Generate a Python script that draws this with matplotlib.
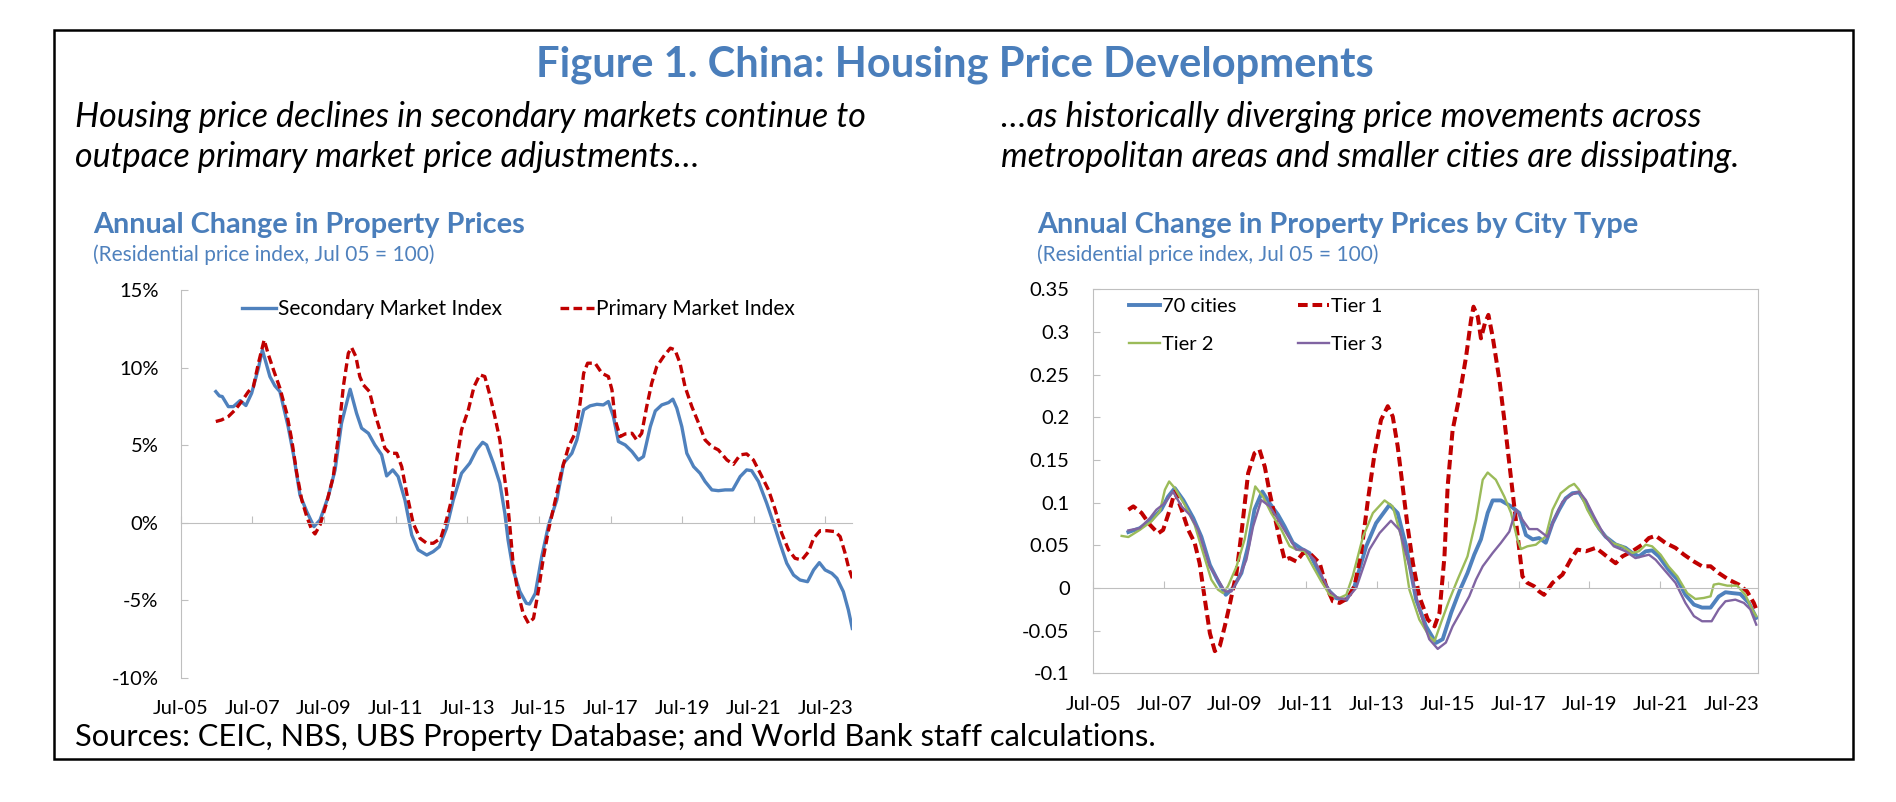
import numpy as np
import matplotlib
matplotlib.use('Agg')
import matplotlib.pyplot as plt
from matplotlib.patches import Rectangle

# ---------------- data (x = decimal year) ----------------
# left panel, annual change in %
sec_x = [2006.48, 2006.58, 2006.66, 2006.83, 2006.97, 2007.16, 2007.32, 2007.48, 2007.67, 2007.78,
         2007.99, 2008.13, 2008.27, 2008.50, 2008.66, 2008.83, 2009.02, 2009.22, 2009.39, 2009.62,
         2009.81, 2009.99, 2010.23, 2010.41, 2010.55, 2010.74, 2010.92, 2011.11, 2011.25, 2011.42,
         2011.57, 2011.76, 2011.95, 2012.13, 2012.37, 2012.55, 2012.72, 2012.92, 2013.11, 2013.34,
         2013.57, 2013.76, 2013.93, 2014.04, 2014.23, 2014.41, 2014.55, 2014.64, 2014.78, 2014.97,
         2015.15, 2015.24, 2015.40, 2015.58, 2015.77, 2016.00, 2016.19, 2016.42, 2016.56, 2016.75,
         2016.93, 2017.12, 2017.30, 2017.44, 2017.58, 2017.72, 2017.91, 2018.10, 2018.28, 2018.42,
         2018.61, 2018.75, 2018.93, 2019.12, 2019.24, 2019.35, 2019.49, 2019.63, 2019.82, 2020.00,
         2020.14, 2020.33, 2020.51, 2020.70, 2020.91, 2021.12, 2021.30, 2021.44, 2021.63, 2021.86,
         2022.05, 2022.23, 2022.42, 2022.61, 2022.79, 2023.00, 2023.17, 2023.33, 2023.49, 2023.68,
         2023.82, 2024.00, 2024.14, 2024.25]
sec_y = [8.45, 8.17, 8.13, 7.48, 7.48, 7.87, 7.55, 8.34, 9.96, 11.14,
         9.42, 8.82, 8.45, 6.19, 4.26, 1.78, 0.71, -0.26, 0.17, 1.68,
         3.40, 6.41, 8.60, 7.05, 6.09, 5.76, 5.01, 4.37, 3.01, 3.40,
         2.97, 1.46, -0.80, -1.76, -2.09, -1.87, -1.55, -0.37, 1.46, 3.18,
         3.83, 4.69, 5.18, 5.01, 3.83, 2.54, 0.60, -1.12, -3.05, -4.45,
         -5.20, -5.25, -4.56, -2.19, -0.15, 1.46, 3.83, 4.47, 5.33, 7.27,
         7.53, 7.63, 7.59, 7.81, 6.84, 5.23, 5.01, 4.58, 4.04, 4.26,
         6.19, 7.20, 7.59, 7.74, 7.96, 7.38, 6.19, 4.47, 3.61, 3.18,
         2.65, 2.11, 2.06, 2.11, 2.11, 2.97, 3.40, 3.35, 2.65, 1.25,
         -0.04, -1.33, -2.62, -3.38, -3.70, -3.81, -3.05, -2.58, -3.05, -3.27,
         -3.59, -4.45, -5.63, -6.82]

pri_x = [2006.48, 2006.64, 2006.83, 2007.02, 2007.20, 2007.39, 2007.53, 2007.67, 2007.83, 2007.95,
         2008.09, 2008.27, 2008.46, 2008.60, 2008.74, 2008.88, 2009.02, 2009.16, 2009.25, 2009.39,
         2009.57, 2009.76, 2009.90, 2010.04, 2010.18, 2010.27, 2010.39, 2010.50, 2010.60, 2010.77,
         2010.92, 2011.06, 2011.20, 2011.34, 2011.53, 2011.67, 2011.81, 2011.99, 2012.18, 2012.37,
         2012.55, 2012.76, 2012.92, 2013.06, 2013.20, 2013.34, 2013.53, 2013.69, 2013.85, 2013.99,
         2014.13, 2014.27, 2014.41, 2014.50, 2014.60, 2014.69, 2014.78, 2014.92, 2015.06, 2015.21,
         2015.35, 2015.49, 2015.63, 2015.77, 2015.96, 2016.14, 2016.33, 2016.51, 2016.65, 2016.75,
         2016.86, 2017.07, 2017.26, 2017.44, 2017.54, 2017.63, 2017.77, 2017.91, 2018.10, 2018.23,
         2018.37, 2018.51, 2018.65, 2018.79, 2018.98, 2019.17, 2019.30, 2019.44, 2019.58, 2019.77,
         2019.96, 2020.14, 2020.33, 2020.51, 2020.75, 2020.93, 2021.12, 2021.30, 2021.49, 2021.68,
         2021.91, 2022.10, 2022.28, 2022.47, 2022.65, 2022.84, 2023.03, 2023.17, 2023.35, 2023.54,
         2023.77, 2023.91, 2024.05, 2024.14, 2024.25]
pri_y = [6.52, 6.62, 6.84, 7.27, 7.81, 8.45, 8.77, 10.28, 11.78, 10.82,
         9.85, 8.67, 7.05, 5.33, 3.18, 1.46, 0.39, -0.47, -0.73, -0.15,
         1.25, 2.97, 5.55, 8.77, 10.92, 11.29, 10.71, 9.42, 8.88, 8.45,
         7.05, 5.98, 4.80, 4.47, 4.47, 3.61, 1.89, -0.04, -1.01, -1.33,
         -1.33, -1.01, 0.17, 1.46, 3.94, 5.98, 7.27, 8.77, 9.53, 9.42,
         8.24, 6.84, 5.33, 3.61, 1.89, -0.26, -2.62, -4.56, -5.85, -6.49,
         -6.17, -4.34, -2.19, -0.47, 1.46, 3.40, 4.90, 5.76, 7.70, 9.63,
         10.28, 10.28, 9.63, 9.42, 8.56, 6.62, 5.55, 5.72, 5.76, 5.33,
         5.76, 7.48, 8.99, 10.06, 10.71, 11.25, 11.14, 10.28, 8.77, 7.48,
         6.41, 5.33, 4.90, 4.69, 4.04, 3.76, 4.37, 4.43, 4.04, 3.18,
         2.11, 0.82, -0.69, -1.76, -2.30, -2.41, -1.87, -1.01, -0.52, -0.52,
         -0.58, -0.90, -1.98, -2.84, -3.59]

# right panel, annual change as a fraction
c70_x = [2006.49, 2006.81, 2007.14, 2007.42, 2007.61, 2007.80, 2008.04, 2008.32, 2008.55, 2008.79,
         2009.02, 2009.24, 2009.44, 2009.68, 2009.87, 2010.05, 2010.27, 2010.48, 2010.71, 2010.90,
         2011.13, 2011.37, 2011.60, 2011.79, 2011.98, 2012.17, 2012.36, 2012.64, 2012.87, 2013.20,
         2013.48, 2013.86, 2014.09, 2014.33, 2014.61, 2014.89, 2015.17, 2015.36, 2015.60, 2015.83,
         2016.06, 2016.25, 2016.44, 2016.63, 2016.77, 2017.00, 2017.29, 2017.52, 2017.71, 2017.90,
         2018.08, 2018.27, 2018.46, 2018.65, 2018.83, 2019.02, 2019.21, 2019.40, 2019.58, 2019.77,
         2019.96, 2020.24, 2020.52, 2020.71, 2020.90, 2021.09, 2021.27, 2021.46, 2021.74, 2021.98,
         2022.21, 2022.45, 2022.68, 2022.92, 2023.15, 2023.34, 2023.53, 2023.76, 2024.00, 2024.21]
c70_y = [0.0655, 0.070, 0.080, 0.092, 0.107, 0.117, 0.103, 0.082, 0.060, 0.027,
         0.008, -0.008, 0.000, 0.0175, 0.049, 0.092, 0.113, 0.099, 0.086, 0.072,
         0.053, 0.046, 0.041, 0.025, 0.008, -0.004, -0.012, -0.014, 0.002, 0.0487,
         0.076, 0.0975, 0.0878, 0.0487, -0.0137, -0.0449, -0.0644, -0.060, -0.029, -0.004,
         0.0175, 0.039, 0.057, 0.088, 0.1026, 0.1026, 0.0956, 0.088, 0.062, 0.057,
         0.0585, 0.053, 0.076, 0.092, 0.105, 0.111, 0.112, 0.0995, 0.084, 0.070,
         0.060, 0.051, 0.047, 0.041, 0.037, 0.043, 0.044, 0.037, 0.021, 0.010,
         -0.008, -0.0195, -0.023, -0.023, -0.010, -0.005, -0.006, -0.007, -0.0175, -0.035]

t1_x = [2006.49, 2006.63, 2006.86, 2007.10, 2007.33, 2007.47, 2007.66, 2007.80, 2007.99, 2008.18,
        2008.36, 2008.50, 2008.65, 2008.79, 2008.93, 2009.07, 2009.21, 2009.35, 2009.54, 2009.68,
        2009.87, 2010.05, 2010.19, 2010.34, 2010.48, 2010.62, 2010.76, 2010.90, 2011.04, 2011.23,
        2011.42, 2011.60, 2011.89, 2012.07, 2012.26, 2012.45, 2012.68, 2012.87, 2013.06, 2013.25,
        2013.44, 2013.62, 2013.81, 2013.95, 2014.09, 2014.23, 2014.37, 2014.52, 2014.70, 2014.94,
        2015.13, 2015.27, 2015.41, 2015.50, 2015.64, 2015.83, 2016.02, 2016.16, 2016.23, 2016.35,
        2016.44, 2016.55, 2016.65, 2016.77, 2016.96, 2017.10, 2017.24, 2017.38, 2017.50, 2017.61,
        2017.75, 2017.94, 2018.08, 2018.22, 2018.46, 2018.74, 2018.97, 2019.16, 2019.40, 2019.68,
        2019.87, 2020.05, 2020.24, 2020.43, 2020.71, 2020.99, 2021.18, 2021.37, 2021.65, 2021.93,
        2022.17, 2022.45, 2022.68, 2022.92, 2023.15, 2023.43, 2023.72, 2023.95, 2024.14, 2024.21]
t1_y = [0.0917, 0.0956, 0.088, 0.074, 0.064, 0.068, 0.092, 0.113, 0.092, 0.068,
        0.053, 0.029, -0.014, -0.053, -0.074, -0.068, -0.045, -0.0195, 0.0175, 0.064,
        0.1345, 0.158, 0.162, 0.142, 0.111, 0.084, 0.0566, 0.033, 0.035, 0.031,
        0.041, 0.041, 0.029, 0.002, -0.0156, -0.0175, -0.012, 0.002, 0.041, 0.103,
        0.158, 0.197, 0.213, 0.201, 0.166, 0.119, 0.072, 0.029, -0.010, -0.037,
        -0.045, -0.029, 0.037, 0.119, 0.185, 0.224, 0.271, 0.314, 0.3296, 0.318,
        0.2925, 0.310, 0.320, 0.2945, 0.244, 0.197, 0.146, 0.0956, 0.0527, 0.0137,
        0.006, 0.002, -0.004, -0.008, 0.006, 0.0156, 0.033, 0.045, 0.043, 0.047,
        0.041, 0.035, 0.029, 0.037, 0.043, 0.0507, 0.0585, 0.0612, 0.0527, 0.047,
        0.039, 0.031, 0.0254, 0.0254, 0.0175, 0.0098, 0.0039, -0.004, -0.0175, -0.025]

t2_x = [2006.30, 2006.49, 2006.81, 2007.14, 2007.38, 2007.52, 2007.64, 2007.80, 2008.08, 2008.36,
        2008.60, 2008.83, 2009.02, 2009.16, 2009.30, 2009.54, 2009.77, 2009.91, 2010.07, 2010.29,
        2010.52, 2010.81, 2011.04, 2011.23, 2011.46, 2011.70, 2011.93, 2012.17, 2012.45, 2012.64,
        2012.82, 2013.11, 2013.39, 2013.72, 2013.95, 2014.19, 2014.42, 2014.70, 2014.98, 2015.13,
        2015.31, 2015.55, 2015.78, 2016.06, 2016.30, 2016.49, 2016.63, 2016.86, 2017.10, 2017.29,
        2017.47, 2017.57, 2017.75, 2017.99, 2018.27, 2018.46, 2018.69, 2018.93, 2019.07, 2019.21,
        2019.44, 2019.68, 2019.91, 2020.15, 2020.43, 2020.71, 2020.90, 2021.09, 2021.27, 2021.51,
        2021.74, 2021.98, 2022.26, 2022.49, 2022.73, 2022.92, 2023.01, 2023.15, 2023.39, 2023.67,
        2023.90, 2024.09, 2024.21]
t2_y = [0.061, 0.0597, 0.068, 0.078, 0.090, 0.115, 0.1248, 0.117, 0.0975, 0.074,
        0.041, 0.0098, -0.002, -0.006, 0.002, 0.025, 0.0566, 0.0878, 0.119, 0.107,
        0.0878, 0.068, 0.049, 0.045, 0.043, 0.025, 0.008, -0.008, -0.0117, -0.008,
        0.0137, 0.060, 0.0878, 0.1026, 0.0955, 0.060, -0.002, -0.037, -0.0566, -0.0624,
        -0.041, -0.0137, 0.0098, 0.037, 0.080, 0.1268, 0.1353, 0.1268, 0.107, 0.0878,
        0.0566, 0.0456, 0.0488, 0.0507, 0.0605, 0.0917, 0.111, 0.119, 0.122, 0.115,
        0.0917, 0.074, 0.0624, 0.0527, 0.0488, 0.041, 0.043, 0.0507, 0.0488, 0.039,
        0.025, 0.0137, -0.006, -0.0129, -0.0117, -0.0098, 0.0039, 0.005, 0.0027, 0.0027,
        -0.008, -0.025, -0.033]

t3_x = [2006.49, 2006.81, 2007.10, 2007.28, 2007.52, 2007.75, 2007.99, 2008.22, 2008.46, 2008.79,
        2009.02, 2009.21, 2009.40, 2009.63, 2009.82, 2010.01, 2010.24, 2010.48, 2010.66, 2010.95,
        2011.23, 2011.46, 2011.74, 2011.98, 2012.17, 2012.40, 2012.64, 2012.92, 2013.29, 2013.58,
        2013.90, 2014.14, 2014.42, 2014.70, 2014.98, 2015.22, 2015.45, 2015.64, 2015.88, 2016.11,
        2016.30, 2016.49, 2016.77, 2017.00, 2017.24, 2017.43, 2017.61, 2017.80, 2018.03, 2018.32,
        2018.50, 2018.74, 2018.97, 2019.21, 2019.40, 2019.63, 2019.91, 2020.19, 2020.52, 2020.80,
        2020.99, 2021.18, 2021.37, 2021.65, 2021.93, 2022.21, 2022.45, 2022.68, 2022.95, 2023.15,
        2023.34, 2023.62, 2023.86, 2024.04, 2024.21]
t3_y = [0.0675, 0.070, 0.082, 0.0917, 0.0995, 0.113, 0.0956, 0.0858, 0.068, 0.025,
        0.0098, -0.004, -0.004, 0.0137, 0.033, 0.072, 0.103, 0.0956, 0.0838, 0.064,
        0.045, 0.045, 0.033, 0.0117, -0.004, -0.0117, -0.0137, 0.000, 0.0449, 0.0644,
        0.0788, 0.068, 0.0254, -0.0254, -0.060, -0.0714, -0.064, -0.045, -0.0273, -0.0098,
        0.0098, 0.0254, 0.041, 0.0527, 0.066, 0.0917, 0.080, 0.069, 0.069, 0.0597,
        0.080, 0.101, 0.109, 0.113, 0.103, 0.084, 0.0624, 0.0488, 0.043, 0.035,
        0.037, 0.039, 0.033, 0.0195, 0.006, -0.0175, -0.033, -0.039, -0.039, -0.025,
        -0.0156, -0.0137, -0.0175, -0.025, -0.043]

year_ticks = [2005.5, 2007.5, 2009.5, 2011.5, 2013.5, 2015.5, 2017.5, 2019.5, 2021.5, 2023.5]
year_labels = ['Jul-05', 'Jul-07', 'Jul-09', 'Jul-11', 'Jul-13', 'Jul-15', 'Jul-17', 'Jul-19', 'Jul-21', 'Jul-23']
left_yticks = [-10, -5, 0, 5, 10, 15]
left_ylabels = ['-10%', '-5%', '0%', '5%', '10%', '15%']
right_yticks = [-0.1, -0.05, 0, 0.05, 0.1, 0.15, 0.2, 0.25, 0.3, 0.35]
right_ylabels = ['-0.1', '-0.05', '0', '0.05', '0.1', '0.15', '0.2', '0.25', '0.3', '0.35']

# ---------------- styling ----------------
plt.rcParams['font.family'] = ['Lato', 'DejaVu Sans']

BLUE = '#4F81BD'
RED = '#C00000'
GREEN = '#9BBB59'
PURPLE = '#8064A2'
HEAD = '#4A7EBB'
GRAY = '#BFBFBF'
TICK_FS = 14.5
SUB_FS = 24.5

W, H = 1896, 802
fig = plt.figure(figsize=(W / 100, H / 100), dpi=100)


def fx(px):
    return px / W


def fy(py):
    return 1 - py / H


def axes_px(x0, y0, x1, y1):
    return fig.add_axes([fx(x0), fy(y1), fx(x1) - fx(x0), fy(y0) - fy(y1)])


def zero_line_axis(ax, frame):
    # x ticks sit on the zero line, labels at the bottom
    ax.spines['bottom'].set_position(('data', 0))
    ax.spines['bottom'].set_color(GRAY)
    ax.set_xticks(year_ticks)
    ax.tick_params(axis='x', direction='in', length=5, color=GRAY, labelbottom=False)
    sec = ax.secondary_xaxis('bottom')
    sec.set_xticks(year_ticks, year_labels)
    sec.tick_params(length=0, pad=16, labelsize=TICK_FS)
    sec.spines['bottom'].set_visible(frame)
    sec.spines['bottom'].set_color(GRAY)


# outer box
fig.add_artist(Rectangle((fx(54), fy(759)), fx(1853) - fx(54), fy(30) - fy(759),
                         transform=fig.transFigure, fill=False, ec='black', lw=1.8))

fig.text(fx(955), fy(77), 'Figure 1. China: Housing Price Developments', ha='center', va='baseline',
         fontsize=30, fontweight='bold', color=HEAD)
fig.text(fx(75), fy(127), 'Housing price declines in secondary markets continue to',
         va='baseline', fontsize=SUB_FS, style='italic')
fig.text(fx(75), fy(167), 'outpace primary market price adjustments…',
         va='baseline', fontsize=SUB_FS, style='italic')
fig.text(fx(1001), fy(127), '…as historically diverging price movements across',
         va='baseline', fontsize=SUB_FS, style='italic')
fig.text(fx(1001), fy(167), 'metropolitan areas and smaller cities are dissipating.',
         va='baseline', fontsize=SUB_FS, style='italic')
fig.text(fx(75), fy(746), 'Sources: CEIC, NBS, UBS Property Database; and World Bank staff calculations.',
         va='baseline', fontsize=22.2)

for x0, name in [(93, 'Annual Change in Property Prices'),
                 (1037, 'Annual Change in Property Prices by City Type')]:
    fig.text(fx(x0), fy(233), name, va='baseline', fontsize=20.8, fontweight='bold', color=HEAD)
    fig.text(fx(x0), fy(261), '(Residential price index, Jul 05 = 100)', va='baseline',
             fontsize=15, color=BLUE)

# ---------------- left panel ----------------
ax1 = axes_px(180.7, 290, 852.3, 677.7)
ax1.plot(sec_x, sec_y, color=BLUE, lw=2.4, label='Secondary Market Index')
ax1.plot(pri_x, pri_y, color=RED, lw=2.4, ls=(0, (2.6, 1.3)), label='Primary Market Index')
ax1.set_xlim(2005.5, 2024.25)
ax1.set_ylim(-10, 15)
ax1.spines['top'].set_visible(False)
ax1.spines['right'].set_visible(False)
ax1.spines['left'].set_color(GRAY)
ax1.set_yticks(left_yticks, left_ylabels)
ax1.tick_params(axis='y', direction='in', length=5, color=GRAY, pad=16, labelsize=TICK_FS)
zero_line_axis(ax1, frame=False)

h1, l1 = ax1.get_legend_handles_labels()
leg_a = ax1.legend([h1[0]], [l1[0]], loc='center left', bbox_to_anchor=(fx(242), fy(309)),
                   bbox_transform=fig.transFigure, frameon=False, fontsize=15, handlelength=1.65,
                   handletextpad=0.1, borderpad=0, borderaxespad=0)
ax1.add_artist(leg_a)
ax1.legend([h1[1]], [l1[1]], loc='center left', bbox_to_anchor=(fx(560), fy(309)),
           bbox_transform=fig.transFigure, frameon=False, fontsize=15, handlelength=1.65,
           handletextpad=0.1, borderpad=0, borderaxespad=0)

# ---------------- right panel ----------------
ax2 = axes_px(1093.3, 289.3, 1757.7, 673.3)
l70, = ax2.plot(c70_x, c70_y, color=BLUE, lw=2.8, label='70 cities')
lt1, = ax2.plot(t1_x, t1_y, color=RED, lw=2.9, ls=(0, (2.4, 1.2)), label='Tier 1')
lt2, = ax2.plot(t2_x, t2_y, color=GREEN, lw=1.7, label='Tier 2')
lt3, = ax2.plot(t3_x, t3_y, color=PURPLE, lw=1.7, label='Tier 3')
ax2.set_xlim(2005.5, 2024.25)
ax2.set_ylim(-0.1, 0.35)
for s in ['top', 'left', 'right']:
    ax2.spines[s].set_color(GRAY)
ax2.set_yticks(right_yticks, right_ylabels)
ax2.tick_params(axis='y', direction='in', length=5, color=GRAY, pad=17, labelsize=TICK_FS)
zero_line_axis(ax2, frame=True)

leg_b = ax2.legend([l70, lt2], ['70 cities', 'Tier 2'], loc='center left',
                   bbox_to_anchor=(fx(1129), fy(325.5)), bbox_transform=fig.transFigure,
                   frameon=False, fontsize=14.5, handlelength=1.55, handletextpad=0.1,
                   labelspacing=1.05, borderpad=0, borderaxespad=0)
ax2.add_artist(leg_b)
ax2.legend([lt1, lt3], ['Tier 1', 'Tier 3'], loc='center left',
           bbox_to_anchor=(fx(1298), fy(325.5)), bbox_transform=fig.transFigure,
           frameon=False, fontsize=14.5, handlelength=1.55, handletextpad=0.1,
           labelspacing=1.05, borderpad=0, borderaxespad=0)

fig.savefig('out.png', dpi=100)
